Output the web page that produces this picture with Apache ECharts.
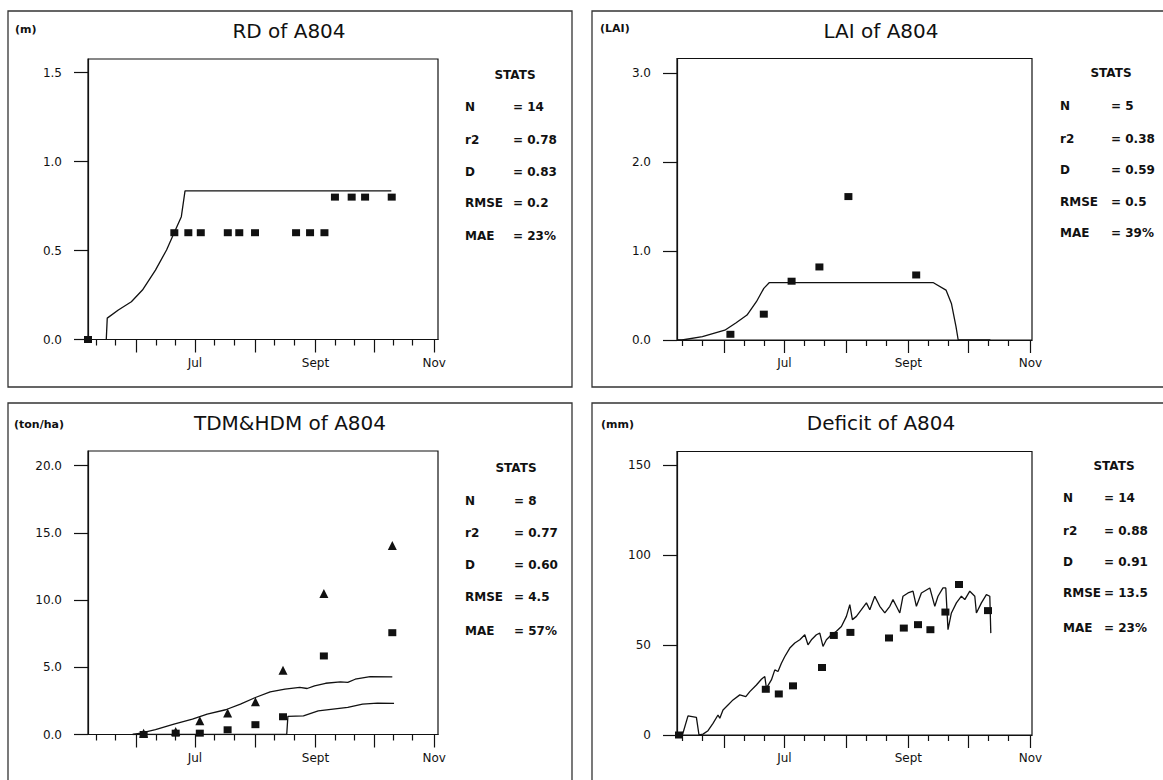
<!DOCTYPE html>
<html><head><meta charset="utf-8">
<script src="https://cdn.jsdelivr.net/npm/echarts@6/dist/echarts.min.js"></script>
<style>html,body{margin:0;padding:0;background:#fff}#c{width:1163px;height:780px}</style>
</head><body><div id="c"></div>
<script>
// ---- axis ticks (x = day of year) ----
const monthTickDoy = [152, 182, 213, 244, 274, 305];
const dekadTickDoy = [131, 141, 162, 172, 192, 202, 223, 233, 254, 264, 284, 294];
const monthLabelDoy = [182, 244, 305];
const monthLabelText = ['Jul', 'Sept', 'Nov'];

const rdTicks = [0, 0.5, 1.0, 1.5];
const laiTicks = [0, 1, 2, 3];
const dmTicks = [0, 5, 10, 15, 20];
const defTicks = [0, 50, 100, 150];

// ---- RD (m) ----
const rdSim = [[136.4,0],[136.9,0.12],[142.6,0.166],[149.3,0.212],[155,0.278],[161.7,0.39],[167.4,0.503],[171.2,0.597],[175,0.69],[176.9,0.835],[283,0.835]];
const rdObs = [[127,0],[171.4,0.6],[178.6,0.6],[185,0.6],[198.9,0.6],[204.8,0.6],[212.9,0.6],[234,0.6],[241.2,0.6],[248.6,0.6],[254,0.8],[262.6,0.8],[269.5,0.8],[283.2,0.8]];

// ---- LAI ----
const laiSim = [[128.3,0],[130.8,0],[141,0.037],[152.2,0.11],[157.7,0.19],[163.3,0.28],[168,0.43],[171.7,0.58],[174.5,0.645],[256.3,0.645],[262.8,0.56],[265.5,0.41],[267.8,0.15],[268.9,0],[285,0]];
const laiObs = [[155,0.064],[171.7,0.29],[185.6,0.66],[199.5,0.82],[214,1.61],[247.9,0.73]];

// ---- TDM & HDM (ton/ha) ----
const tdmSim = [[150,0],[154.1,0.11],[161.7,0.36],[171.2,0.78],[180.7,1.15],[188.3,1.52],[197.8,1.84],[205.4,2.26],[213.1,2.75],[220.7,3.17],[228.3,3.37],[235.9,3.5],[239.7,3.42],[243.5,3.62],[249.2,3.81],[256.8,3.91],[260.6,3.87],[264.4,4.11],[272.1,4.31],[283.5,4.28]];
const hdmSim = [[150,0],[229.2,0],[229.8,1.35],[237.8,1.39],[245.4,1.76],[253,1.89],[260.6,2.01],[268.2,2.26],[275.9,2.33],[284.4,2.31]];
const tdmObs = [[155.6,0.1],[172.1,0.23],[184.5,1.02],[198.8,1.59],[213.1,2.43],[227.3,4.78],[248.3,10.48],[283.5,14.06]];
const hdmObs = [[155.6,0],[172.1,0.1],[184.5,0.1],[198.8,0.35],[213.1,0.73],[227.3,1.32],[248.3,5.84],[283.5,7.57]];

// ---- Deficit (mm) ----
const defSim = [[128.3,0],[131,0],[133.8,10.6],[138,9.8],[139.3,0],[141.3,0.5],[143.8,2.4],[146.3,6.5],[148.8,11.1],[149.7,9.3],[151.3,13.9],[153.8,16.7],[156.3,19.5],[159.7,22.3],[162.7,21.3],[164.7,24.1],[168,27.8],[170.5,31],[172.2,32.5],[173,26],[175.5,30.6],[177.2,36.2],[178.8,35.3],[180.5,39.9],[182.2,43.6],[184.7,48.3],[187.2,51.1],[189.7,52.9],[192.2,55.7],[193.8,50.1],[195.5,52.9],[198,55.7],[199.7,56.6],[201.3,49.2],[203,52.9],[205.5,55.7],[208,57.6],[210.5,60.3],[213,65.9],[214.7,72.4],[216,64.1],[218,65.9],[220.5,69.6],[223,73.4],[224.7,69.6],[227.2,77.1],[229.7,71.5],[232.2,67.8],[234.7,71.5],[236.3,75.2],[238,71.5],[239.7,67.8],[241.3,77.1],[243.8,78.9],[246.3,79.9],[248,71.5],[250.5,78.9],[254.7,81.7],[257.2,71.5],[258.8,77.1],[261.3,81.7],[262.7,81.7],[263.8,58.5],[265.5,67.8],[268,73.4],[270.5,77.1],[272.2,75.2],[274.7,79.9],[277.2,77.1],[278,67.8],[280.5,73.4],[283,78],[284.7,77.1],[285.2,56.6]];
const defObs = [[129.3,0],[172.7,25.4],[179.2,22.8],[186.3,27.3],[200.8,37.5],[206.7,55.3],[215,57],[234.3,53.9],[241.7,59.4],[248.8,61.3],[255,58.5],[262.5,68.3],[269.3,83.6],[283.8,69.1]];

// ---- texts ----
const panelTitles = ['RD of A804', 'LAI of A804', 'TDM&HDM of A804', 'Deficit of A804'];
const panelUnits = ['(m)', '(LAI)', '(ton/ha)', '(mm)'];
const statNames = ['N', 'r2', 'D', 'RMSE', 'MAE'];
const rdStats = ['= 14', '= 0.78', '= 0.83', '= 0.2', '= 23%'];
const laiStats = ['= 5', '= 0.38', '= 0.59', '= 0.5', '= 39%'];
const dmStats = ['= 8', '= 0.77', '= 0.60', '= 4.5', '= 57%'];
const defStats = ['= 14', '= 0.88', '= 0.91', '= 13.5', '= 23%'];

const INK = '#111111';
const FONT = '"DejaVu Sans", "Liberation Sans", sans-serif';

// layout of the four panels
const panels = [
  {grid:{left:88, top:59, width:350, height:280.5}, xr:[127,307], ymax:1.576, ticks:rdTicks, dec:1,
   box:[8,11,564,376], title:[289,31], unit:[15,29], statX:[465,513], statC:515, statY:[75,107,140,172,203,236], stats:rdStats},
  {grid:{left:677, top:58.5, width:355, height:281.5}, xr:[128.3,305.8], ymax:3.16, ticks:laiTicks, dec:1,
   box:[592,11,580,376], title:[881,31], unit:[600,28], statX:[1060,1111], statC:1111, statY:[73,106,139,170,202,233], stats:laiStats},
  {grid:{left:88, top:451, width:350, height:283.5}, xr:[127,307], ymax:21.08, ticks:dmTicks, dec:1,
   box:[8,403,564,385], title:[290,423], unit:[14,424], statX:[465,514], statC:516, statY:[468,501,533,565,597,631], stats:dmStats},
  {grid:{left:677, top:451.5, width:355, height:283.5}, xr:[128.3,305.8], ymax:157.5, ticks:defTicks, dec:0,
   box:[592,403,580,385], title:[881,423], unit:[601,424], statX:[1063,1104], statC:1114, statY:[466,498,531,562,593,628], stats:defStats}
];

const lineW = {color: INK, width: 1.2};
const grids = [], xAxes = [], yAxes = [], graphics = [];
panels.forEach((p, i) => {
  grids.push(Object.assign({show:true, borderColor:INK, borderWidth:1.2, backgroundColor:'transparent', containLabel:false}, p.grid));
  xAxes.push({type:'value', gridIndex:i, min:p.xr[0], max:p.xr[1], position:'bottom',
    axisLine:{show:true, onZero:false, lineStyle:lineW},
    axisTick:{show:true, customValues:monthTickDoy, length:13, lineStyle:lineW},
    axisLabel:{customValues:monthLabelDoy, formatter:v => monthLabelText[monthLabelDoy.indexOf(v)] || '',
      margin:17, color:INK, fontFamily:FONT, fontSize:12},
    splitLine:{show:false}});
  xAxes.push({type:'value', gridIndex:i, min:p.xr[0], max:p.xr[1], position:'bottom',
    axisLine:{show:false}, axisTick:{show:true, customValues:dekadTickDoy, length:6, lineStyle:lineW},
    axisLabel:{show:false}, splitLine:{show:false}});
  yAxes.push({type:'value', gridIndex:i, min:0, max:p.ymax,
    axisLine:{show:true, onZero:false, lineStyle:lineW},
    axisTick:{show:true, customValues:p.ticks, length:14, lineStyle:lineW},
    axisLabel:{customValues:p.ticks, formatter:v => v.toFixed(p.dec), margin:26, color:INK, fontFamily:FONT, fontSize:12},
    splitLine:{show:false}});
  graphics.push({type:'rect', shape:{x:p.box[0], y:p.box[1], width:p.box[2], height:p.box[3]}, silent:true,
    style:{fill:'none', stroke:'#333', lineWidth:1.3}});
  graphics.push({type:'text', x:p.title[0], y:p.title[1], silent:true,
    style:{text:panelTitles[i], font:'20px ' + FONT, fill:INK, align:'center', verticalAlign:'middle', textAlign:'center', textVerticalAlign:'middle'}});
  graphics.push({type:'text', x:p.unit[0], y:p.unit[1], silent:true,
    style:{text:panelUnits[i], font:'bold 11px ' + FONT, fill:INK, align:'left', verticalAlign:'middle', textAlign:'left', textVerticalAlign:'middle'}});
  graphics.push({type:'text', x:p.statC, y:p.statY[0], silent:true,
    style:{text:'STATS', font:'bold 12px ' + FONT, fill:INK, align:'center', verticalAlign:'middle', textAlign:'center', textVerticalAlign:'middle'}});
  statNames.forEach((n, k) => {
    graphics.push({type:'text', x:p.statX[0], y:p.statY[k+1], silent:true,
      style:{text:n, font:'bold 12px ' + FONT, fill:INK, align:'left', verticalAlign:'middle', textAlign:'left', textVerticalAlign:'middle'}});
    graphics.push({type:'text', x:p.statX[1], y:p.statY[k+1], silent:true,
      style:{text:p.stats[k], font:'bold 12px ' + FONT, fill:INK, align:'left', verticalAlign:'middle', textAlign:'left', textVerticalAlign:'middle'}});
  });
});

function lineS(data, g, name) {
  return {type:'line', name, data, xAxisIndex:2*g, yAxisIndex:g, showSymbol:false, symbol:'none',
    lineStyle:{color:INK, width:1.3, opacity:1}, itemStyle:{color:INK}, animation:false, silent:true};
}
function dotS(data, g, name, symbol, size) {
  return {type:'scatter', name, data, xAxisIndex:2*g, yAxisIndex:g, symbol, symbolSize:size,
    itemStyle:{color:INK, opacity:1}, animation:false, silent:true};
}

const chart = echarts.init(document.getElementById('c'), null, {renderer:'svg'});
chart.setOption({
  backgroundColor:'#ffffff',
  animation:false,
  grid:grids, xAxis:xAxes, yAxis:yAxes,
  graphic:{elements:graphics},
  series:[
    lineS(rdSim, 0, 'RD simulated'), dotS(rdObs, 0, 'RD observed', 'rect', [8,7]),
    lineS(laiSim, 1, 'LAI simulated'), dotS(laiObs, 1, 'LAI observed', 'rect', [8,7]),
    lineS(tdmSim, 2, 'TDM simulated'), lineS(hdmSim, 2, 'HDM simulated'),
    dotS(tdmObs, 2, 'TDM observed', 'triangle', 9), dotS(hdmObs, 2, 'HDM observed', 'rect', [8,7]),
    lineS(defSim, 3, 'Deficit simulated'), dotS(defObs, 3, 'Deficit observed', 'rect', [8,7])
  ]
});
</script></body></html>
